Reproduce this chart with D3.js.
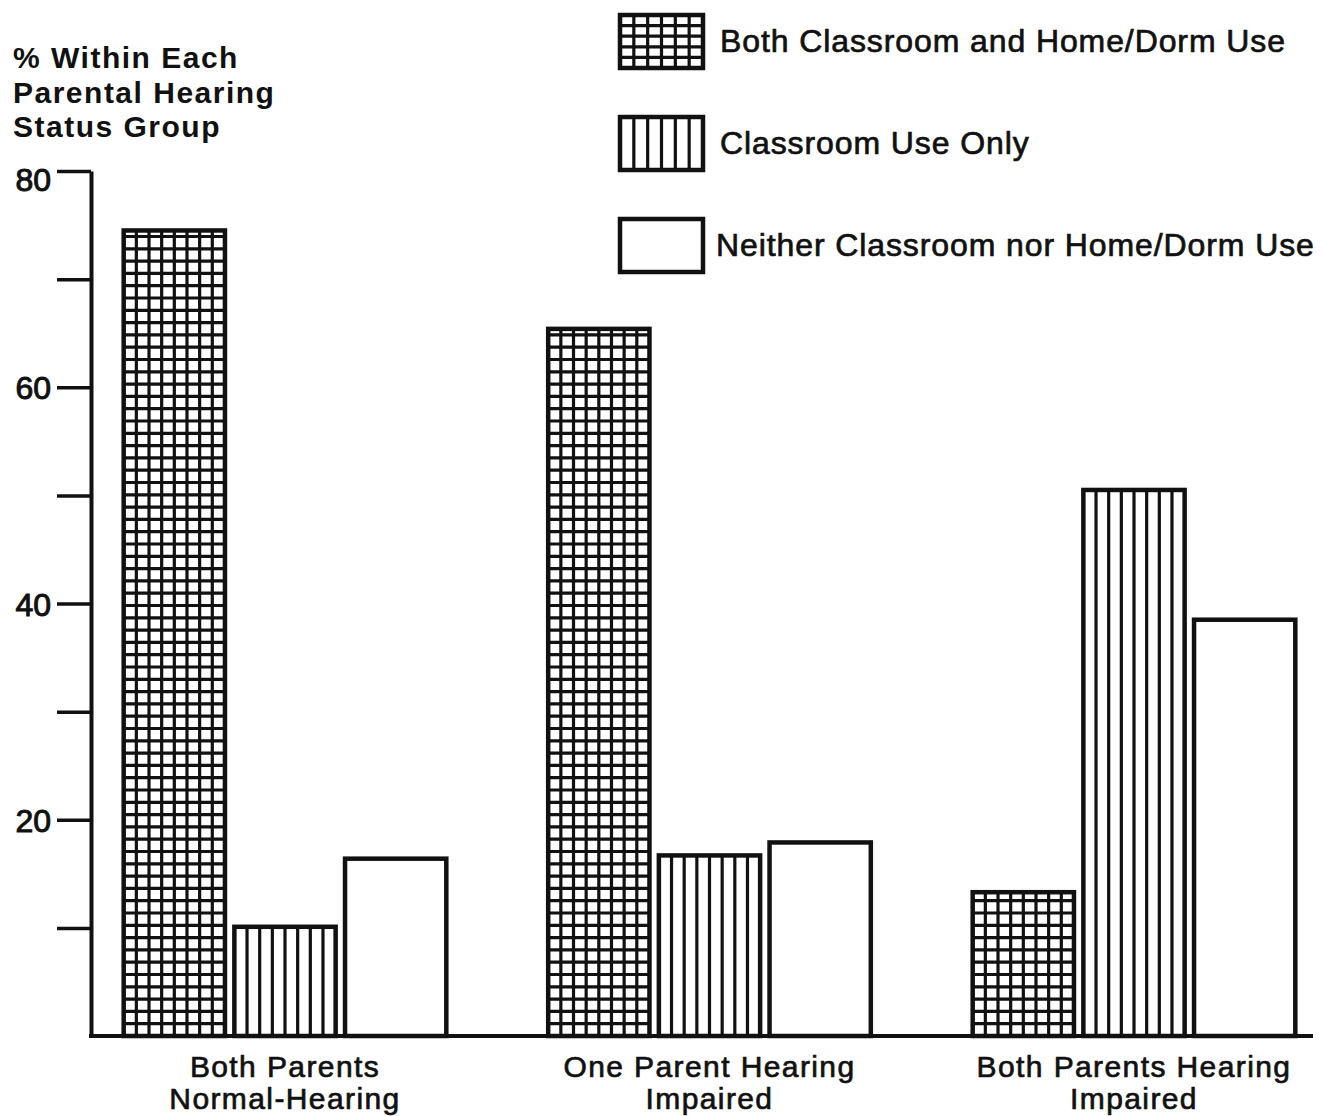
<!DOCTYPE html>
<html>
<head>
<meta charset="utf-8">
<script src="https://cdn.jsdelivr.net/npm/d3@7"></script>
<style>
body { margin: 0; background: #fff; }
text { font-family: 'Liberation Sans', Arial, sans-serif; fill: #111; }
</style>
</head>
<body>
<div id="root"></div>
<script>
// data
const groups = ['Both Parents|Normal-Hearing', 'One Parent Hearing|Impaired', 'Both Parents Hearing|Impaired'];
const series = ['Both Classroom and Home/Dorm Use', 'Classroom Use Only', 'Neither Classroom nor Home/Dorm Use'];
const patterns = ['grid', 'stripes', 'none'];
const bothUse = [74.5, 65.4, 13.3];
const classroomOnly = [10.1, 16.7, 50.5];
const neither = [16.4, 17.9, 38.5];
const yTicks = [10, 20, 30, 40, 50, 60, 70, 80];
const yLabels = [20, 40, 60, 80];
const titleLines = ['% Within Each', 'Parental Hearing', 'Status Group'];

const width = 1323;
const height = 1116;
const ink = '#111';

const values = [bothUse, classroomOnly, neither];

const svg = d3.select('#root')
    .append('svg')
    .attr('width', width)
    .attr('height', height)
    .attr('viewBox', [0, 0, width, height]);

const y = d3.scaleLinear().domain([0, 80]).range([1036, 171]);

const x = d3.scaleBand()
    .domain(groups)
    .range([72.75, 1346.25])
    .paddingInner(0.24)
    .paddingOuter(0.12);

const xi = d3.scaleBand()
    .domain(series)
    .range([0, x.bandwidth()])
    .paddingInner(0.085);

// hatch lines inside a box
function hatch(g, x0, y0, w, h, kind, cols, rowStep, fromBottom) {
    if (kind === 'none') return;
    for (let k = 1; k < cols; k += 1) {
        const xx = x0 + (k * w) / cols;
        g.append('line')
            .attr('x1', xx).attr('x2', xx)
            .attr('y1', y0).attr('y2', y0 + h)
            .attr('stroke', ink)
            .attr('stroke-width', 3.2);
    }
    if (kind === 'grid') {
        const rows = d3.range(rowStep, h - 2, rowStep);
        rows.forEach(r => {
            const yy = fromBottom ? y0 + h - r : y0 + r;
            g.append('line')
                .attr('x1', x0).attr('x2', x0 + w)
                .attr('y1', yy).attr('y2', yy)
                .attr('stroke', ink)
                .attr('stroke-width', 3.2);
        });
    }
}

// bars
const barsG = svg.append('g');
groups.forEach((grp, gi) => {
    series.forEach((s, si) => {
        const v = values[si][gi];
        const bx = x(grp) + xi(s);
        const by = y(v);
        const bw = xi.bandwidth();
        const bh = y(0) - y(v);
        const g = barsG.append('g');
        hatch(g, bx, by, bw, bh, patterns[si], 8, 12.3, true);
        g.append('rect')
            .attr('x', bx).attr('y', by)
            .attr('width', bw).attr('height', bh)
            .attr('fill', 'none')
            .attr('stroke', ink)
            .attr('stroke-width', 4.5);
    });
});

// y axis
const yAxis = d3.axisLeft(y)
    .tickValues(yTicks)
    .tickSize(34)
    .tickSizeOuter(0)
    .tickPadding(6)
    .tickFormat(d => (yLabels.includes(d) ? d : ''));

const ag = svg.append('g')
    .attr('transform', 'translate(91,0)')
    .call(yAxis);
ag.select('.domain').attr('stroke', ink).attr('stroke-width', 4);
ag.selectAll('.tick line').attr('stroke', ink).attr('stroke-width', 3.5);
ag.selectAll('.tick text')
    .attr('fill', ink)
    .style('font-size', '32px')
    .attr('stroke', ink)
    .attr('stroke-width', 1)
    .attr('dy', d => (d === 80 ? '0.62em' : '0.36em'));

// baseline
svg.append('line')
    .attr('x1', 89).attr('x2', 1313)
    .attr('y1', y(0)).attr('y2', y(0))
    .attr('stroke', ink)
    .attr('stroke-width', 4);

// x labels
groups.forEach(grp => {
    const t = svg.append('text')
        .attr('text-anchor', 'middle')
        .attr('x', x(grp) + x.bandwidth() / 2)
        .attr('y', 1077)
        .style('font-size', '30px')
        .style('letter-spacing', '1.4px')
        .attr('stroke', ink)
        .attr('stroke-width', 0.7);
    grp.split('|').forEach((line, li) => {
        t.append('tspan')
            .attr('x', x(grp) + x.bandwidth() / 2)
            .attr('dy', li === 0 ? 0 : 32)
            .text(line);
    });
});

// y title
titleLines.forEach((line, li) => {
    svg.append('text')
        .attr('x', 13)
        .attr('y', 68 + li * 34.5)
        .style('font-size', '30px')
        .style('font-weight', 'bold')
        .style('letter-spacing', '1.5px')
        .text(line);
});

// legend
const legend = svg.append('g');
series.forEach((s, si) => {
    const ly = 15 + si * 102;
    const g = legend.append('g');
    hatch(g, 620, ly, 83, 53, patterns[si], 6, 10.6, false);
    g.append('rect')
        .attr('x', 620).attr('y', ly)
        .attr('width', 83).attr('height', 53)
        .attr('fill', 'none')
        .attr('stroke', ink)
        .attr('stroke-width', 4.5);
    g.append('text')
        .attr('x', si === 2 ? 716 : 720)
        .attr('y', ly + 37)
        .style('font-size', '32px')
        .style('letter-spacing', '0.9px')
        .attr('stroke', ink)
        .attr('stroke-width', 0.7)
        .text(s);
});
</script>
</body>
</html>
